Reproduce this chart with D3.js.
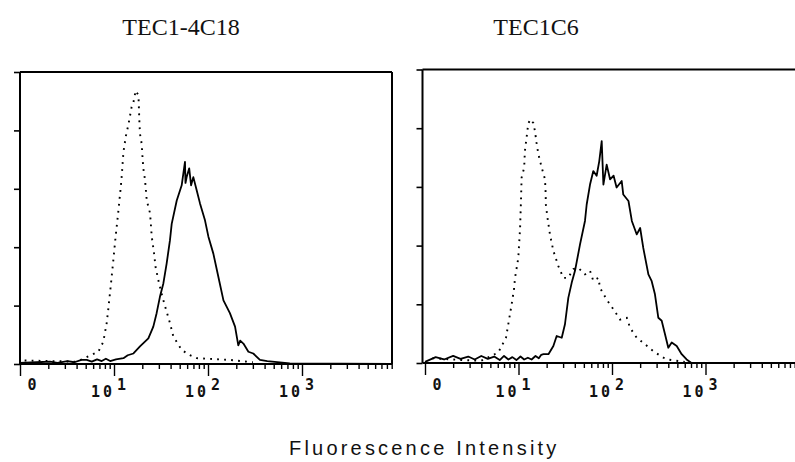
<!DOCTYPE html>
<html>
<head>
<meta charset="utf-8">
<script src="https://cdn.jsdelivr.net/npm/d3@7/dist/d3.min.js"></script>
<style>
  html, body { margin: 0; padding: 0; background: #fff; }
  svg { display: block; }
</style>
</head>
<body>
<svg id="chart" width="795" height="462"></svg>
<script>
// ---------------- DATA ----------------
const panelTitles = ["TEC1-4C18", "TEC1C6"];
const axisTitle = "Fluorescence Intensity";
const xMajorTicks = [1, 10, 100, 1000];
const xMajorExponents = ["", "1", "2", "3"];
const xMajorBases = ["0", "10", "10", "10"];
const yTickValues = [0, 1, 2, 3, 4, 5];

// Panel 1 (TEC1-4C18): control (dotted) — [intensity, count]
const p1ControlX = [1.12, 4.0, 6.81, 7.69, 8.36, 8.71, 9.29, 9.84, 10.4, 11.1, 11.8, 12.1, 12.6, 13.4, 14.2, 15.4, 16.1, 17.0, 18.2, 18.6, 18.9, 19.7, 20.2, 20.5, 21.4, 22.3, 24.2, 25.2, 26.7, 27.7, 29.6, 32.7, 35.5, 39.4, 42.8, 52.5, 64.4, 75.9, 170, 300];
const p1ControlY = [0.06, 0.04, 0.21, 0.38, 0.70, 0.95, 1.38, 1.78, 2.18, 2.60, 3.03, 3.23, 3.63, 3.91, 4.09, 4.40, 4.48, 4.68, 4.60, 4.17, 3.94, 3.77, 3.49, 3.35, 3.15, 2.80, 2.58, 2.18, 1.89, 1.66, 1.44, 1.15, 0.95, 0.70, 0.47, 0.24, 0.15, 0.10, 0.07, 0.03];
// Panel 1: stained (solid)
const p1StainX = [1.0, 1.5, 2.09, 2.5, 3.2, 3.8, 4.5, 5.13, 5.8, 6.6, 7.4, 8.2, 9.1, 10.5, 12.6, 14.0, 16.1, 18.9, 23.2, 26.2, 28.4, 30.8, 33.5, 36.3, 39.4, 41.1, 46.5, 52.5, 56.9, 57.6, 59.3, 63.1, 66.1, 69.8, 75.9, 82.2, 92.9, 101, 114, 129, 146, 171, 194, 210, 220, 238, 269, 303, 357, 427, 741, 9000];
const p1StainY = [0.02, 0.03, 0.04, 0.02, 0.05, 0.03, 0.07, 0.07, 0.04, 0.08, 0.05, 0.09, 0.05, 0.08, 0.10, 0.15, 0.18, 0.30, 0.44, 0.64, 0.87, 1.15, 1.38, 1.72, 2.12, 2.40, 2.80, 3.06, 3.46, 3.10, 3.20, 3.35, 3.06, 3.20, 2.97, 2.75, 2.46, 2.18, 1.89, 1.49, 1.09, 0.87, 0.64, 0.32, 0.40, 0.35, 0.21, 0.18, 0.07, 0.05, 0.01, 0.0];

// Panel 2 (TEC1C6): control (dotted)
const p2ControlX = [1.2, 2.5, 4.0, 6.08, 7.35, 8.45, 8.95, 9.18, 9.95, 10.4, 10.6, 10.8, 11.5, 11.7, 12.2, 12.7, 13.3, 14.4, 15.0, 15.6, 16.3, 17.7, 19.2, 19.5, 19.6, 20.4, 21.7, 23.6, 26.7, 30.2, 33.9, 38.6, 43.7, 51.4, 58.2, 63.1, 71.5, 74.5, 87.7, 104, 122, 144, 156, 184, 225, 277, 355, 389, 600];
const p2ControlY = [0.08, 0.05, 0.04, 0.18, 0.43, 1.00, 1.26, 1.45, 1.79, 2.30, 2.70, 3.16, 3.33, 3.61, 3.84, 4.07, 4.15, 4.09, 3.95, 3.75, 3.56, 3.33, 3.13, 2.90, 2.70, 2.48, 2.19, 1.91, 1.65, 1.45, 1.45, 1.60, 1.62, 1.51, 1.57, 1.40, 1.45, 1.28, 1.08, 0.91, 0.74, 0.77, 0.60, 0.43, 0.32, 0.20, 0.09, 0.06, 0.02];
// Panel 2: stained (solid)
const p2StainX = [1.0, 1.3, 1.6, 2.0, 2.4, 2.9, 3.4, 4.0, 4.7, 5.5, 6.3, 7.0, 7.8, 8.6, 9.5, 10.5, 11.5, 12.6, 13.8, 15.2, 16.5, 17.5, 18.5, 20.9, 23.6, 25.6, 29.0, 31.4, 34.1, 37.1, 40.2, 45.5, 51.4, 53.6, 58.2, 63.1, 68.5, 73.1, 77.6, 80.9, 87.7, 95.3, 104, 112, 127, 132, 150, 163, 184, 200, 216, 245, 265, 288, 313, 340, 369, 400, 435, 492, 556, 628, 708, 9000];
const p2StainY = [0.02, 0.10, 0.06, 0.12, 0.07, 0.11, 0.06, 0.12, 0.07, 0.11, 0.05, 0.12, 0.06, 0.10, 0.05, 0.11, 0.06, 0.09, 0.06, 0.12, 0.08, 0.14, 0.15, 0.15, 0.29, 0.46, 0.43, 0.66, 1.11, 1.37, 1.57, 2.02, 2.42, 2.70, 3.04, 3.27, 3.19, 3.44, 3.78, 3.04, 3.38, 3.13, 3.19, 2.99, 3.10, 2.87, 2.76, 2.42, 2.19, 2.30, 1.96, 1.51, 1.40, 1.17, 0.77, 0.72, 0.49, 0.26, 0.35, 0.29, 0.15, 0.06, 0.0, 0.0];

// ---------------- DRAW ----------------
const svg = d3.select("#chart");
const minorTicks = [];
for (let d = 1; d <= 1000; d *= 10) for (let k = 1; k <= 9; k++) minorTicks.push(d * k);

const panels = [
  { title: panelTitles[0], titleX: 181, x0: 20, x1: 396, frameRight: 392, yTop: 72, yBot: 364,
    ctrlX: p1ControlX, ctrlY: p1ControlY, stX: p1StainX, stY: p1StainY, closeRight: true },
  { title: panelTitles[1], titleX: 536, x0: 425, x1: 799, frameRight: 795, yTop: 69.5, yBot: 363, frameLeft: 422.5,
    ctrlX: p2ControlX, ctrlY: p2ControlY, stX: p2StainX, stY: p2StainY, closeRight: false }
];

const monoFont = "'DejaVu Sans Mono', monospace";

panels.forEach((p, i) => {
  const x = d3.scaleLog().domain([1, 10000]).range([p.x0, p.x1]);
  const y = d3.scaleLinear().domain([0, 5]).range([p.yBot, p.yTop]);
  const g = svg.append("g");
  const left = p.frameLeft !== undefined ? p.frameLeft : p.x0;

  const clipId = "clip" + i;
  svg.append("clipPath").attr("id", clipId).append("rect")
    .attr("x", left).attr("y", p.yTop - 2).attr("width", p.frameRight - left).attr("height", p.yBot - p.yTop + 3);

  svg.append("text").attr("x", p.titleX).attr("y", 34.5)
    .attr("text-anchor", "middle")
    .attr("font-family", "'Liberation Serif', 'Times New Roman', serif")
    .attr("font-size", 24).attr("fill", "#111")
    .text(p.title);

  const frame = g.append("g").attr("stroke", "#000").attr("stroke-width", 2).attr("fill", "none");
  frame.append("line").attr("x1", left).attr("x2", left).attr("y1", p.yTop).attr("y2", p.yBot);
  frame.append("line").attr("x1", left).attr("x2", p.frameRight).attr("y1", p.yTop).attr("y2", p.yTop);
  if (p.closeRight) frame.append("line").attr("x1", p.frameRight).attr("x2", p.frameRight).attr("y1", p.yTop).attr("y2", p.yBot);

  const yAxis = d3.axisLeft(y).tickValues(yTickValues).tickSize(6).tickSizeOuter(0).tickFormat("");
  const ya = g.append("g").attr("transform", `translate(${left},0)`).call(yAxis);
  ya.select(".domain").remove();
  ya.selectAll(".tick line").attr("stroke", "#000").attr("stroke-width", 1.6);

  const xAxis = d3.axisBottom(x).tickValues(minorTicks).tickSize(5).tickSizeOuter(0).tickFormat("");
  const xa = g.append("g").attr("transform", `translate(0,${p.yBot})`).call(xAxis);
  xa.select(".domain").attr("stroke", "#000").attr("stroke-width", 2)
    .attr("d", `M${left},0H${p.frameRight}`);
  xa.selectAll(".tick line").attr("stroke", "#000").attr("stroke-width", 1.4)
    .attr("y2", d => xMajorTicks.includes(d) ? 12 : 5);
  xa.selectAll(".tick").filter(d => x(d) > p.frameRight).remove();

  xMajorTicks.forEach((t, k) => {
    const tx = x(t);
    if (xMajorExponents[k] === "") {
      svg.append("text").attr("x", tx + 12).attr("y", 390)
        .attr("text-anchor", "middle")
        .attr("font-family", monoFont).attr("font-weight", "bold")
        .attr("font-size", 15).attr("fill", "#111").text(xMajorBases[k]);
    } else {
      svg.append("text").attr("x", tx + 1).attr("y", 397)
        .attr("text-anchor", "end")
        .attr("font-family", monoFont).attr("font-weight", "bold")
        .attr("font-size", 15).attr("letter-spacing", "3px").attr("fill", "#111").text(xMajorBases[k]);
      svg.append("text").attr("x", tx + 3).attr("y", 390)
        .attr("text-anchor", "start")
        .attr("font-family", monoFont).attr("font-weight", "bold")
        .attr("font-size", 15).attr("fill", "#111").text(xMajorExponents[k]);
    }
  });

  const line = d3.line().x(d => x(d[0])).y(d => y(d[1]));
  const ctrl = p.ctrlX.map((v, k) => [v, p.ctrlY[k]]);
  const stain = p.stX.map((v, k) => [v, p.stY[k]]);
  const cg = g.append("g").attr("clip-path", `url(#${clipId})`);
  cg.append("path").datum(ctrl).attr("d", line)
    .attr("fill", "none").attr("stroke", "#000").attr("stroke-width", 1.9)
    .attr("stroke-dasharray", "1.8,5.2");
  cg.append("path").datum(stain).attr("d", line)
    .attr("fill", "none").attr("stroke", "#000").attr("stroke-width", 1.8)
    .attr("stroke-linejoin", "round");
});

svg.append("text").attr("x", 289).attr("y", 455)
  .attr("font-family", "'Liberation Sans', Arial, sans-serif")
  .attr("font-size", 20).attr("letter-spacing", "3.2px").attr("fill", "#111")
  .text(axisTitle);
</script>
</body>
</html>
